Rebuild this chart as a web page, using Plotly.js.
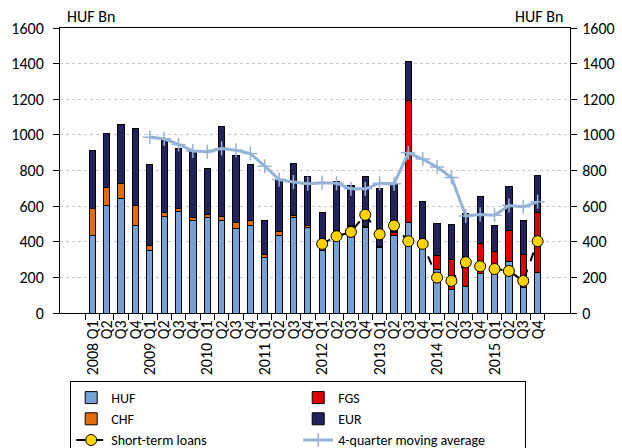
<!DOCTYPE html>
<html>
<head>
<meta charset="utf-8">
<script src="https://cdn.plot.ly/plotly-3.0.1.min.js"></script>
<style>html,body{margin:0;padding:0;background:#fff;}#chart{width:622px;height:448px;}</style>
</head>
<body>
<div id="chart"></div>
<script>
const years = ['2008','2009','2010','2011','2012','2013','2014','2015'];
const quarters = ['Q1','Q2','Q3','Q4'];
const categories = [];
const tickLabels = [];
years.forEach(y => quarters.forEach(q => {
  categories.push(y + ' ' + q);
  tickLabels.push(q === 'Q1' ? y + ' ' + q : q);
}));

const huf = [433,601,641,489, 350,539,570,519, 536,519,474,489, 311,435,538,480,
             350,450,485,480, 365,433,508,415, 244,131,146,221, 230,287,143,227];
const fgs = [0,0,0,0, 0,0,0,0, 0,0,0,0, 0,0,0,0,
             0,0,0,0, 0,19,683,0, 78,171,169,169, 118,178,185,339];
const chf = [151,105,88,112, 27,23,18,15, 15,22,34,30, 17,22,9,11,
             10,15,5,8, 6,6,0,5, 0,0,0,0, 0,0,0,0];
const eur = [330,302,329,435, 458,412,337,371, 260,508,378,316, 191,292,292,273,
             204,271,226,276, 328,265,221,204, 180,195,241,266, 143,245,194,208];
const shortTerm = [null,null,null,null, null,null,null,null, null,null,null,null, null,null,null,null,
             388,431,455,551, 442,491,403,388, 199,180,285,262, 247,236,180,403];
const movingAvg = [null,null,null,null, 987,978,946,910, 905,923,914,895, 824,749,736,725,
             731,729,697,697, 729,725,899,864, 819,761,545,553, 549,603,596,624];

const FONT = 'Carlito, Calibri, "Liberation Sans", Arial, sans-serif';
const FS = 16;
const barLine = {color:'#000000', width:1};

const traces = [
  {type:'bar', name:'HUF', x:categories, y:huf, marker:{color:'#76A1D6', line:barLine}},
  {type:'bar', name:'FGS', x:categories, y:fgs, marker:{color:'#E00000', line:barLine}},
  {type:'bar', name:'CHF', x:categories, y:chf, marker:{color:'#E46C0A', line:barLine}},
  {type:'bar', name:'EUR', x:categories, y:eur, marker:{color:'#24225C', line:barLine}},
  {type:'scatter', mode:'lines+markers', name:'Short-term loans', x:categories, y:shortTerm,
   line:{color:'#000000', width:2, dash:'dash'},
   marker:{symbol:'circle', size:11, color:'#FFD200', line:{color:'#000000', width:1}}},
  {type:'scatter', mode:'lines+markers', name:'4-quarter moving average', x:categories, y:movingAvg,
   yaxis:'y2', line:{color:'#95B3D7', width:3},
   marker:{symbol:'cross-thin', size:10, color:'#95B3D7', line:{color:'#95B3D7', width:1.5}}}
];

const yCommon = {
  range:[0,1600], tickvals:[0,200,400,600,800,1000,1200,1400,1600],
  ticks:'outside', ticklen:6, tickcolor:'#000', tickwidth:1,
  showline:true, linecolor:'#000', linewidth:1,
  tickfont:{family:FONT, size:FS, color:'#000'}, zeroline:false, fixedrange:true
};

const layout = {
  width:622, height:448,
  margin:{l:60, r:52, t:28, b:135, autoexpand:false},
  paper_bgcolor:'#fff', plot_bgcolor:'#fff',
  barmode:'stack', bargap:0.56,
  font:{family:FONT, size:FS, color:'#000'},
  showlegend:true,
  xaxis:{
    type:'category', tickvals:categories, ticktext:tickLabels, tickangle:-90,
    ticks:'outside', tickson:'boundaries', ticklen:6, tickcolor:'#000',
    showline:true, linecolor:'#000', mirror:true,
    tickfont:{family:FONT, size:FS, color:'#000'}, showgrid:false
  },
  yaxis: Object.assign({}, yCommon, {side:'left', showgrid:true, gridcolor:'#C8C8C8', griddash:'dot', gridwidth:1, ticklabelstandoff:6}),
  yaxis2: Object.assign({}, yCommon, {side:'right', overlaying:'y', showgrid:false, ticklabelstandoff:2}),
  legend:{
    orientation:'h', x:0.02, xanchor:'left', y:-0.2386, yanchor:'top',
    bordercolor:'#000', borderwidth:1, bgcolor:'#fff',
    entrywidth:182, entrywidthmode:'pixels', traceorder:'normal',
    font:{family:FONT, size:14, color:'#000'}
  },
  annotations:[
    {text:'HUF Bn', xref:'paper', yref:'paper', x:0.01, y:1.0, xanchor:'left', yanchor:'bottom', showarrow:false, font:{family:FONT, size:FS, color:'#000'}},
    {text:'HUF Bn', xref:'paper', yref:'paper', x:0.99, y:1.0, xanchor:'right', yanchor:'bottom', showarrow:false, font:{family:FONT, size:FS, color:'#000'}}
  ]
};

Plotly.newPlot('chart', traces, layout, {displayModeBar:false, staticPlot:true});
</script>
</body>
</html>
